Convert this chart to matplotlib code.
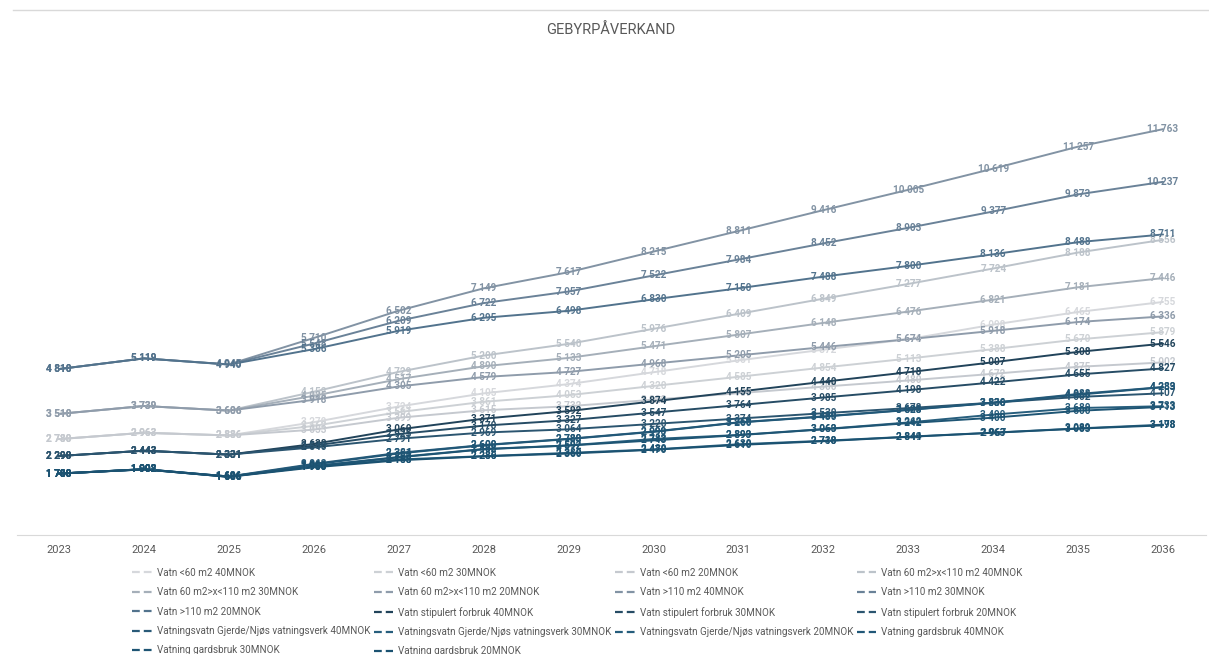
import numpy as np
import matplotlib
matplotlib.use('Agg')
import matplotlib.pyplot as plt
from matplotlib.lines import Line2D

plt.rcParams['font.family'] = ['Roboto', 'DejaVu Sans']

years = ['2023', '2024', '2025', '2026', '2027', '2028', '2029', '2030',
         '2031', '2032', '2033', '2034', '2035', '2036']

series_names = [
    'Vatn <60 m2 40MNOK', 'Vatn <60 m2 30MNOK', 'Vatn <60 m2 20MNOK',
    'Vatn 60 m2>x<110 m2 40MNOK', 'Vatn 60 m2>x<110 m2 30MNOK', 'Vatn 60 m2>x<110 m2 20MNOK',
    'Vatn >110 m2 40MNOK', 'Vatn >110 m2 30MNOK', 'Vatn >110 m2 20MNOK',
    'Vatn stipulert forbruk 40MNOK', 'Vatn stipulert forbruk 30MNOK', 'Vatn stipulert forbruk 20MNOK',
    'Vatningsvatn Gjerde/Njøs vatningsverk 40MNOK', 'Vatningsvatn Gjerde/Njøs vatningsverk 30MNOK',
    'Vatningsvatn Gjerde/Njøs vatningsverk 20MNOK',
    'Vatning gardsbruk 40MNOK', 'Vatning gardsbruk 30MNOK', 'Vatning gardsbruk 20MNOK',
]

vatn_lt60_40 = [2780, 2963, 2886, 3270, 3724, 4105, 4374, 4718, 5061, 5372, 5676, 6098, 6465, 6755]
vatn_lt60_30 = [2780, 2963, 2886, 3162, 3561, 3861, 4053, 4320, 4585, 4854, 5113, 5388, 5670, 5879]
vatn_lt60_20 = [2780, 2963, 2886, 3053, 3399, 3615, 3732, 3922, 4109, 4300, 4480, 4672, 4875, 5002]
vatn_mid_40 = [3510, 3739, 3606, 4152, 4729, 5200, 5540, 5976, 6409, 6849, 7277, 7724, 8188, 8556]
vatn_mid_30 = [3510, 3739, 3606, 4035, 4517, 4890, 5133, 5471, 5807, 6148, 6476, 6821, 7181, 7446]
vatn_mid_20 = [3510, 3739, 3606, 3918, 4305, 4579, 4727, 4968, 5205, 5446, 5674, 5918, 6174, 6336]
vatn_gt110_40 = [4810, 5119, 4945, 5710, 6502, 7149, 7617, 8215, 8811, 9416, 10005, 10619, 11257, 11763]
vatn_gt110_30 = [4810, 5119, 4945, 5548, 6209, 6722, 7057, 7522, 7984, 8452, 8903, 9377, 9873, 10237]
vatn_gt110_20 = [4810, 5119, 4940, 5386, 5919, 6295, 6498, 6830, 7150, 7488, 7800, 8136, 8488, 8711]
stip_40 = [2290, 2443, 2331, 2638, 3060, 3371, 3592, 3874, 4155, 4440, 4718, 5007, 5308, 5546]
stip_30 = [2290, 2443, 2331, 2589, 2925, 3170, 3327, 3547, 3764, 3985, 4198, 4422, 4655, 4827]
stip_20 = [2290, 2443, 2331, 2540, 2791, 2969, 3064, 3220, 3374, 3530, 3678, 3836, 4002, 4107]
vatningsvatn_40 = [1780, 1908, 1696, 2062, 2381, 2609, 2789, 2999, 3266, 3439, 3630, 3836, 4088, 4289]
vatningsvatn_30 = [1780, 1908, 1696, 2000, 2261, 2492, 2597, 2783, 2899, 3069, 3262, 3490, 3680, 3733]
vatningsvatn_20 = [1780, 1908, 1696, 1980, 2188, 2286, 2380, 2480, 2630, 2730, 2849, 2967, 3089, 3198]
gardsbruk_40 = [1780, 1902, 1686, 2041, 2364, 2600, 2780, 2990, 3260, 3430, 3623, 3830, 4066, 4283]
gardsbruk_30 = [1780, 1902, 1686, 1990, 2250, 2485, 2592, 2743, 2893, 3063, 3242, 3400, 3600, 3713]
gardsbruk_20 = [1780, 1902, 1686, 1960, 2165, 2280, 2360, 2470, 2610, 2718, 2844, 2963, 3083, 3178]

all_values = [vatn_lt60_40, vatn_lt60_30, vatn_lt60_20,
              vatn_mid_40, vatn_mid_30, vatn_mid_20,
              vatn_gt110_40, vatn_gt110_30, vatn_gt110_20,
              stip_40, stip_30, stip_20,
              vatningsvatn_40, vatningsvatn_30, vatningsvatn_20,
              gardsbruk_40, gardsbruk_30, gardsbruk_20]

colors = ['#d6d8dc', '#cdd1d5', '#c5c9cf',
          '#bcc3ca', '#a5afb9', '#8f9cab',
          '#8293a4', '#6a8298', '#52738d',
          '#21435a', '#264c65', '#2b5570',
          '#295a78', '#275e7d', '#255d7c',
          '#215878', '#1e5574', '#1b5271']

TXT = '#595959'


def fmt(v):
    return f'{v:,}'.replace(',', ' ')


fig = plt.figure(figsize=(12.09, 6.54), dpi=100)
ax = fig.add_axes([16.5 / 1209, 119 / 654, 1189 / 1209, 483 / 654])
x = np.arange(len(years))

for i, (vals, c) in enumerate(zip(all_values, colors)):
    ax.plot(x, vals, color=c, lw=1.4, zorder=2 + i * 0.01, solid_capstyle='round')
for i, (vals, c) in enumerate(zip(all_values, colors)):
    for xi, v in zip(x, vals):
        ax.text(xi, v, fmt(v), ha='center', va='center', fontsize=7.2,
                fontweight='bold', color=c, zorder=5 + i * 0.01)

ax.set_xlim(-0.5, len(years) - 0.5)
ax.set_ylim(0, 14000)
ax.set_yticks([])
ax.set_xticks(x, years)
ax.tick_params(axis='x', length=0, pad=7, labelsize=8, labelcolor=TXT)
for s in ['top', 'left', 'right']:
    ax.spines[s].set_visible(False)
ax.spines['bottom'].set_color('#d9d9d9')

fig.text(611 / 1209, 1 - 30 / 654, 'GEBYRPÅVERKAND', ha='center', va='center',
         fontsize=10.5, color=TXT)
fig.add_artist(Line2D([13 / 1209, 1], [1 - 10 / 654] * 2, color='#d9d9d9', lw=1,
                      transform=fig.transFigure))

handles = [Line2D([], [], color=c, lw=1.6, linestyle=(0, (3.5, 1.8))) for c in colors]
order = [0, 4, 8, 12, 16, 1, 5, 9, 13, 17, 2, 6, 10, 14, 3, 7, 11, 15]
fig.legend([handles[k] for k in order], [series_names[k] for k in order],
           loc='upper left', bbox_to_anchor=(128 / 1209, 1 - 564 / 654), ncol=4,
           frameon=False, fontsize=7.1, labelcolor=TXT, handlelength=2.0,
           handletextpad=0.5, columnspacing=0.35, labelspacing=0.95, borderaxespad=0)

fig.savefig('out.png', dpi=100)
